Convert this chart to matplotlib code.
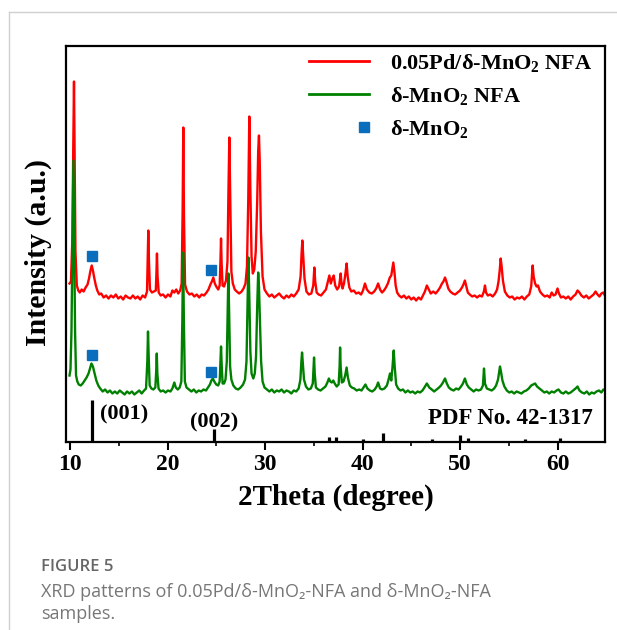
import numpy as np
import matplotlib
matplotlib.use('Agg')
import matplotlib.pyplot as plt
from matplotlib.lines import Line2D
from matplotlib.legend_handler import HandlerLine2D

plt.rcParams['font.family'] = ['Liberation Serif', 'DejaVu Serif']
plt.rcParams['font.weight'] = 'bold'
plt.rcParams['axes.labelweight'] = 'bold'
plt.rcParams['mathtext.fontset'] = 'custom'
plt.rcParams['mathtext.rm'] = 'Liberation Serif:bold'
plt.rcParams['mathtext.bf'] = 'Liberation Serif:bold'
plt.rcParams['mathtext.it'] = 'Liberation Serif:bold'

# 2theta (deg), intensity (a.u., stacked)
pd_mno2 = [(9.95,158),(10.1,160),(10.25,205),(10.33,290),(10.41,360),(10.48,285),(10.56,190),(10.7,156),(10.85,151),(11.0,149),(11.2,152),(11.4,150),(11.6,154),(11.8,157),(11.95,163),(12.1,171),(12.23,176),(12.35,171),(12.5,163),(12.65,156),(12.8,151),(13.0,147),(13.2,148),(13.45,144),(13.7,146),(13.95,143),(14.2,146),(14.45,144),(14.7,147),(14.95,143),(15.2,145),(15.45,142),(15.7,146),(15.95,144),(16.2,143),(16.45,146),(16.7,143),(16.95,145),(17.2,142),(17.45,146),(17.7,144),(17.9,150),(17.97,185),(18.03,211),(18.1,180),(18.2,152),(18.4,149),(18.6,150),(18.8,151),(18.87,170),(18.92,188),(18.98,165),(19.1,149),(19.3,146),(19.55,147),(19.8,144),(20.05,147),(20.3,145),(20.5,151),(20.7,149),(20.9,152),(21.1,148),(21.3,151),(21.45,158),(21.55,230),(21.62,314),(21.69,225),(21.8,157),(22.0,150),(22.25,147),(22.5,148),(22.75,145),(23.0,147),(23.25,144),(23.5,147),(23.75,146),(24.0,149),(24.2,152),(24.4,157),(24.55,160),(24.7,164),(24.85,158),(25.0,155),(25.2,152),(25.35,156),(25.43,180),(25.49,203),(25.55,178),(25.65,156),(25.8,155),(26.0,161),(26.15,180),(26.25,250),(26.34,304),(26.43,245),(26.55,170),(26.7,158),(26.9,152),(27.1,150),(27.35,148),(27.6,150),(27.8,153),(28.0,158),(28.15,175),(28.28,240),(28.39,325),(28.5,250),(28.62,185),(28.75,168),(28.9,172),(29.05,190),(29.2,240),(29.3,290),(29.38,306),(29.46,280),(29.58,210),(29.75,165),(29.95,152),(30.2,148),(30.45,145),(30.7,147),(30.95,144),(31.2,146),(31.45,148),(31.7,145),(31.95,143),(32.2,146),(32.45,144),(32.7,147),(32.95,145),(33.2,148),(33.45,152),(33.65,165),(33.75,188),(33.83,201),(33.92,186),(34.05,163),(34.25,150),(34.5,147),(34.75,148),(34.95,156),(35.06,174),(35.15,160),(35.3,149),(35.5,147),(35.75,146),(36.0,149),(36.25,152),(36.45,160),(36.6,166),(36.75,158),(36.9,163),(37.05,166),(37.2,156),(37.4,152),(37.6,155),(37.7,163),(37.76,168),(37.83,160),(37.95,153),(38.1,158),(38.25,168),(38.37,178),(38.48,165),(38.65,154),(38.85,150),(39.1,151),(39.35,148),(39.6,149),(39.85,147),(40.05,151),(40.25,158),(40.45,152),(40.7,149),(40.95,148),(41.2,150),(41.4,153),(41.6,158),(41.8,152),(42.0,149),(42.2,151),(42.4,154),(42.6,158),(42.8,164),(42.95,166),(43.05,172),(43.16,179),(43.27,170),(43.4,156),(43.55,149),(43.75,146),(44.0,144),(44.25,146),(44.5,143),(44.75,145),(45.0,142),(45.25,144),(45.5,141),(45.75,144),(46.0,142),(46.2,146),(46.4,150),(46.6,156),(46.8,152),(47.0,148),(47.25,150),(47.5,148),(47.75,151),(47.95,154),(48.15,158),(48.3,160),(48.46,164),(48.6,160),(48.8,153),(49.0,150),(49.25,148),(49.5,147),(49.75,149),(50.0,151),(50.2,154),(50.35,157),(50.5,161),(50.65,155),(50.8,149),(51.0,147),(51.25,145),(51.5,146),(51.75,144),(52.0,146),(52.25,145),(52.45,150),(52.56,156),(52.67,149),(52.85,146),(53.1,147),(53.35,145),(53.6,148),(53.8,152),(53.95,160),(54.08,172),(54.17,183),(54.27,175),(54.4,161),(54.6,150),(54.85,146),(55.1,144),(55.35,145),(55.6,142),(55.85,144),(56.1,143),(56.35,145),(56.6,142),(56.85,145),(57.1,147),(57.3,155),(57.45,176),(57.55,165),(57.7,158),(57.85,155),(58.0,156),(58.2,150),(58.45,147),(58.7,145),(58.95,146),(59.2,144),(59.4,149),(59.6,146),(59.8,147),(60.0,153),(60.15,148),(60.35,144),(60.6,145),(60.85,143),(61.1,145),(61.35,142),(61.6,145),(61.85,147),(62.05,151),(62.25,149),(62.45,146),(62.7,144),(62.95,146),(63.2,143),(63.45,145),(63.7,147),(63.9,150),(64.1,147),(64.3,145),(64.5,148),(64.7,149),(64.87,146)]

mno2 = [(9.95,66),(10.05,72),(10.15,110),(10.25,200),(10.35,281),(10.43,200),(10.52,110),(10.62,66),(10.75,60),(10.9,57),(11.1,56),(11.3,58),(11.5,61),(11.7,64),(11.9,68),(12.05,73),(12.2,78),(12.35,75),(12.5,69),(12.7,61),(12.9,56),(13.1,53),(13.35,50),(13.6,52),(13.85,49),(14.1,51),(14.35,48),(14.6,50),(14.85,48),(15.1,51),(15.35,49),(15.6,47),(15.85,50),(16.1,48),(16.35,50),(16.6,47),(16.85,49),(17.1,51),(17.35,48),(17.6,51),(17.8,53),(17.93,80),(18.0,110),(18.07,85),(18.17,56),(18.35,53),(18.55,52),(18.75,54),(18.84,70),(18.9,88),(18.96,68),(19.08,53),(19.3,50),(19.55,51),(19.8,49),(20.05,51),(20.3,50),(20.5,53),(20.7,59),(20.85,54),(21.05,52),(21.25,54),(21.42,60),(21.52,120),(21.6,189),(21.68,120),(21.78,60),(21.95,54),(22.2,52),(22.45,50),(22.7,52),(22.95,49),(23.2,51),(23.45,50),(23.7,52),(23.95,51),(24.15,54),(24.35,57),(24.5,61),(24.65,63),(24.8,60),(25.0,57),(25.2,56),(25.35,60),(25.43,80),(25.49,95),(25.55,78),(25.65,58),(25.8,58),(25.95,62),(26.08,80),(26.17,130),(26.24,168),(26.32,130),(26.42,75),(26.55,62),(26.75,56),(27.0,53),(27.25,52),(27.5,54),(27.75,57),(27.95,62),(28.1,80),(28.2,130),(28.3,184),(28.4,140),(28.5,90),(28.62,68),(28.8,63),(28.95,68),(29.08,85),(29.2,135),(29.3,169),(29.38,155),(29.48,120),(29.6,80),(29.75,60),(29.95,54),(30.2,52),(30.45,50),(30.7,52),(30.95,49),(31.2,51),(31.45,50),(31.7,52),(31.95,49),(32.2,51),(32.45,50),(32.7,48),(32.95,51),(33.2,50),(33.45,53),(33.63,62),(33.73,80),(33.8,89),(33.88,78),(34.0,62),(34.2,55),(34.45,52),(34.7,53),(34.9,58),(34.98,75),(35.03,84),(35.1,68),(35.22,54),(35.45,52),(35.7,51),(35.95,53),(36.2,55),(36.4,59),(36.55,63),(36.7,60),(36.85,59),(37.0,61),(37.15,58),(37.35,55),(37.55,57),(37.65,75),(37.7,94),(37.76,75),(37.88,59),(38.05,60),(38.22,66),(38.37,74),(38.5,64),(38.7,56),(38.9,54),(39.15,53),(39.4,51),(39.65,52),(39.9,51),(40.1,54),(40.3,57),(40.5,53),(40.75,51),(41.0,50),(41.25,52),(41.45,55),(41.6,59),(41.8,53),(42.0,52),(42.25,53),(42.5,56),(42.7,63),(42.82,68),(42.95,61),(43.08,75),(43.2,91),(43.3,75),(43.45,57),(43.65,53),(43.9,51),(44.15,52),(44.4,49),(44.65,51),(44.9,49),(45.15,50),(45.4,48),(45.65,50),(45.9,49),(46.15,51),(46.35,54),(46.6,58),(46.85,54),(47.1,52),(47.35,50),(47.6,52),(47.85,54),(48.05,56),(48.25,59),(48.46,63),(48.65,58),(48.85,54),(49.1,52),(49.35,51),(49.6,53),(49.85,52),(50.1,55),(50.3,58),(50.5,63),(50.7,57),(50.9,54),(51.15,52),(51.4,50),(51.65,52),(51.9,51),(52.15,52),(52.35,56),(52.46,73),(52.56,58),(52.75,53),(53.0,52),(53.25,51),(53.5,53),(53.7,56),(53.9,62),(54.03,70),(54.1,75),(54.2,70),(54.35,61),(54.55,55),(54.8,51),(55.05,49),(55.3,50),(55.55,48),(55.8,50),(56.05,49),(56.3,48),(56.55,50),(56.8,51),(57.05,53),(57.3,56),(57.5,57),(57.7,58),(57.9,55),(58.15,53),(58.4,51),(58.65,49),(58.9,50),(59.15,48),(59.4,50),(59.65,49),(59.9,51),(60.1,52),(60.35,49),(60.6,48),(60.85,50),(61.1,48),(61.35,49),(61.6,51),(61.85,53),(62.05,55),(62.25,51),(62.5,49),(62.75,48),(63.0,50),(63.25,47),(63.5,49),(63.75,48),(64.0,50),(64.25,51),(64.5,49),(64.7,52),(64.87,51)]

# PDF No. 42-1317 reference lines
ref_tt = [12.23, 24.77, 36.6, 37.25, 40.1, 42.13, 47.1, 50.0, 50.8, 56.67, 60.26]
ref_int = [41.5, 12.2, 4.8, 4.8, 2.5, 8.2, 2.5, 6.5, 3.8, 2.5, 3.2]

# delta-MnO2 markers
mark_tt = [12.3, 24.43, 12.3, 24.43]
mark_int = [185.5, 172, 86.5, 70]

red_tt, red_int = np.array(pd_mno2).T
grn_tt, grn_int = np.array(mno2).T

blue = '#0a6ebd'


class RightMarker(HandlerLine2D):
    # put the legend marker at the right end of the handle
    def create_artists(self, *args, **kwargs):
        arts = super().create_artists(*args, **kwargs)
        xd = np.asarray(arts[0].get_xdata(), float)
        arts[0].set_xdata(xd + (xd[-1] - xd[1]) - 3.5)
        return arts


fig = plt.figure(figsize=(6.17, 6.3), dpi=100)
ax = fig.add_axes([66/617, 1 - 441.5/630, 539/617, 395.5/630])

ax.plot(red_tt, red_int, color='#ff0000', lw=1.7)
ax.plot(grn_tt, grn_int, color='#008000', lw=1.7)
ax.vlines(ref_tt, 0, ref_int, color='black', lw=2.3)
ax.plot(mark_tt, mark_int, ls='none', marker='s', ms=7.5, color=blue)

ax.text(13.1, 27, '(001)', fontsize=16, ha='left', va='center')
ax.text(22.3, 19, '(002)', fontsize=16, ha='left', va='center')
ax.text(63.6, 23, 'PDF No. 42-1317', fontsize=16.5, ha='right', va='center')

ax.set_xlim(9.59, 64.87)
ax.set_ylim(0, 395.5)
ax.set_xticks([10, 20, 30, 40, 50, 60])
ax.set_xticks(np.arange(15, 65, 10), minor=True)
ax.set_yticks([])
ax.tick_params(axis='x', which='major', direction='out', length=6, width=1.5,
               labelsize=17, pad=3)
ax.tick_params(axis='x', which='minor', direction='out', length=3, width=1.2)
for sp in ax.spines.values():
    sp.set_linewidth(1.6)

ax.set_xlabel('2Theta (degree)', fontsize=21, fontweight='bold', labelpad=6)
ax.set_ylabel('Intensity (a.u.)', fontsize=21.5, fontweight='bold')
ax.yaxis.set_label_coords(-0.026, 0.479)

sq = Line2D([], [], ls='none', marker='s', ms=7, color=blue)
handles = [Line2D([], [], color='#ff0000', lw=2),
           Line2D([], [], color='#008000', lw=2),
           sq]
labels = [r'0.05Pd/δ-MnO$_2$ NFA', r'δ-MnO$_2$ NFA', r'δ-MnO$_2$']
ax.legend(handles, labels, loc='upper right', bbox_to_anchor=(1.006, 1.025),
          frameon=False, fontsize=16, handlelength=2.7, handletextpad=0.95,
          labelspacing=0.5, borderpad=0.2, handler_map={sq: RightMarker()})

# card frame and caption
fig.add_artist(Line2D([9/617, 1], [1 - 12/630, 1 - 12/630], color='#d0d0d0', lw=1))
fig.add_artist(Line2D([9/617, 9/617], [0, 1 - 12/630], color='#d0d0d0', lw=1))
cap = ['Open Sans', 'DejaVu Sans']
fig.text(41/617, 1 - 567/630, 'FIGURE 5', family=cap, fontsize=12, weight='semibold',
         color='#666666', va='center')
fig.text(41/617, 1 - 592/630, 'XRD patterns of 0.05Pd/δ-MnO₂-NFA and δ-MnO₂-NFA',
         family=cap, fontsize=13, weight='normal', color='#777777', va='center')
fig.text(41/617, 1 - 614/630, 'samples.', family=cap, fontsize=13, weight='normal',
         color='#777777', va='center')

fig.savefig('out.png', dpi=100)
